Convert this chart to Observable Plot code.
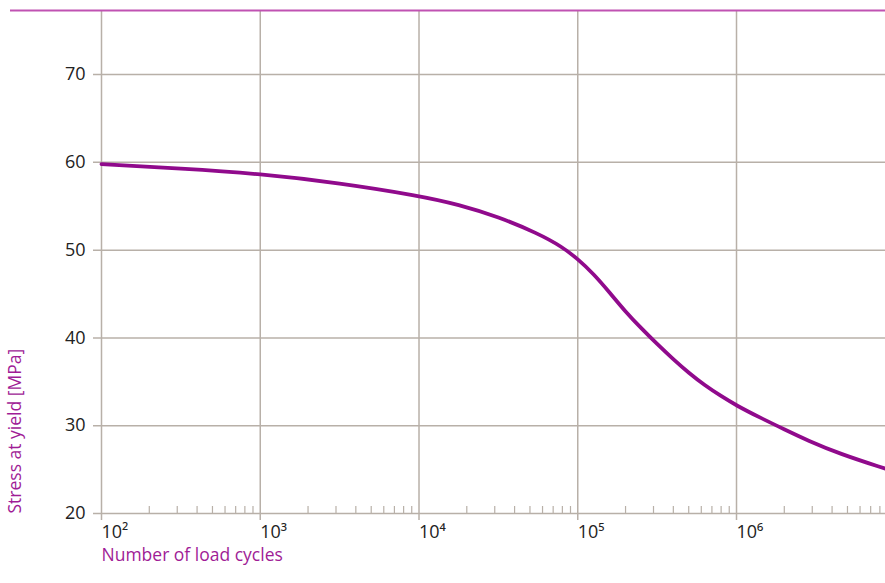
<!DOCTYPE html>
<html><head><meta charset="utf-8">
<script src="https://cdn.jsdelivr.net/npm/d3@7"></script>
<script src="https://cdn.jsdelivr.net/npm/@observablehq/plot@0.6"></script>
<style>body{margin:0;background:#fff} svg{display:block}</style>
</head><body><div id="chart"></div>
<script>
// Curve: number of load cycles vs stress at yield (MPa)
const cycles = [100, 316, 1000, 3162, 10000, 17783, 31623, 56234, 79433, 100000,
                125893, 158489, 199526, 251189, 316228, 398107, 501187, 630957, 794328,
                1000000, 1412538, 1995262, 2818383, 4466836, 8680000];
const stress = [59.8, 59.3, 58.7, 57.65, 56.2, 55.2, 53.8, 51.9, 50.4, 49.0,
                47.3, 45.2, 43.0, 41.1, 39.3, 37.6, 36.0, 34.6, 33.4,
                32.3, 30.9, 29.6, 28.3, 26.8, 25.1];

const yTicks = [20, 30, 40, 50, 60, 70];
const xMajor = [1e2, 1e3, 1e4, 1e5, 1e6];
const xTickLabels = ["10²", "10³", "10⁴", "10⁵", "10⁶"];
const minorMultipliers = [2, 3, 4, 5, 6, 7, 8, 9];
const xDomain = [100, 8.68e6];
const yDomain = [20, 77.3];
const xLabel = "Number of load cycles";
const yLabel = "Stress at yield [MPa]";

const xMinor = xMajor.flatMap(d => minorMultipliers.map(m => m * d)).filter(v => v <= xDomain[1]);
const data = cycles.map((c, i) => ({cycles: c, stress: stress[i]}));

const gridColor = "#b8b0a8";
const curveColor = "#900a8c";
const labelColor = "#a01c96";
const topColor = "#c052b2";

const chart = Plot.plot({
  width: 885, height: 583,
  marginLeft: 101, marginRight: 0, marginTop: 10, marginBottom: 70,
  x: {type: "log", domain: xDomain},
  y: {domain: yDomain},
  style: {fontFamily: "'Open Sans', sans-serif", fontSize: "18px", color: "#222", background: "#fff"},
  marks: [
    Plot.ruleY(yTicks, {stroke: gridColor, strokeWidth: 1.5, insetLeft: -8}),
    Plot.ruleX(xMajor, {stroke: gridColor, strokeWidth: 1.5, insetBottom: -7}),
    Plot.axisX(xMinor, {tickSize: -7, tickFormat: () => "", stroke: gridColor, strokeWidth: 1.2, label: null}),
    Plot.axisX(xMajor, {tickSize: 0, tickPadding: 12, tickFormat: d => xTickLabels[xMajor.indexOf(d)],
                        textAnchor: "start", fill: "#222", label: null, fontSize: 18}),
    Plot.axisY(yTicks, {tickSize: 0, tickPadding: 16, label: null, fill: "#222", fontSize: 18}),
    Plot.ruleY([yDomain[1]], {stroke: topColor, strokeWidth: 2, insetLeft: -91}),
    Plot.line(data, {x: "cycles", y: "stress", stroke: curveColor, strokeWidth: 3.8, curve: "basis"}),
    Plot.text([xLabel], {text: d => d, frameAnchor: "bottom-left", dy: 47, textAnchor: "start", fill: labelColor, fontSize: 17.5}),
    Plot.text([yLabel], {text: d => d, frameAnchor: "bottom-left", dx: -81, rotate: -90, textAnchor: "start", fill: labelColor, fontSize: 17.5})
  ]
});
document.getElementById("chart").append(chart);
</script>
</body></html>
